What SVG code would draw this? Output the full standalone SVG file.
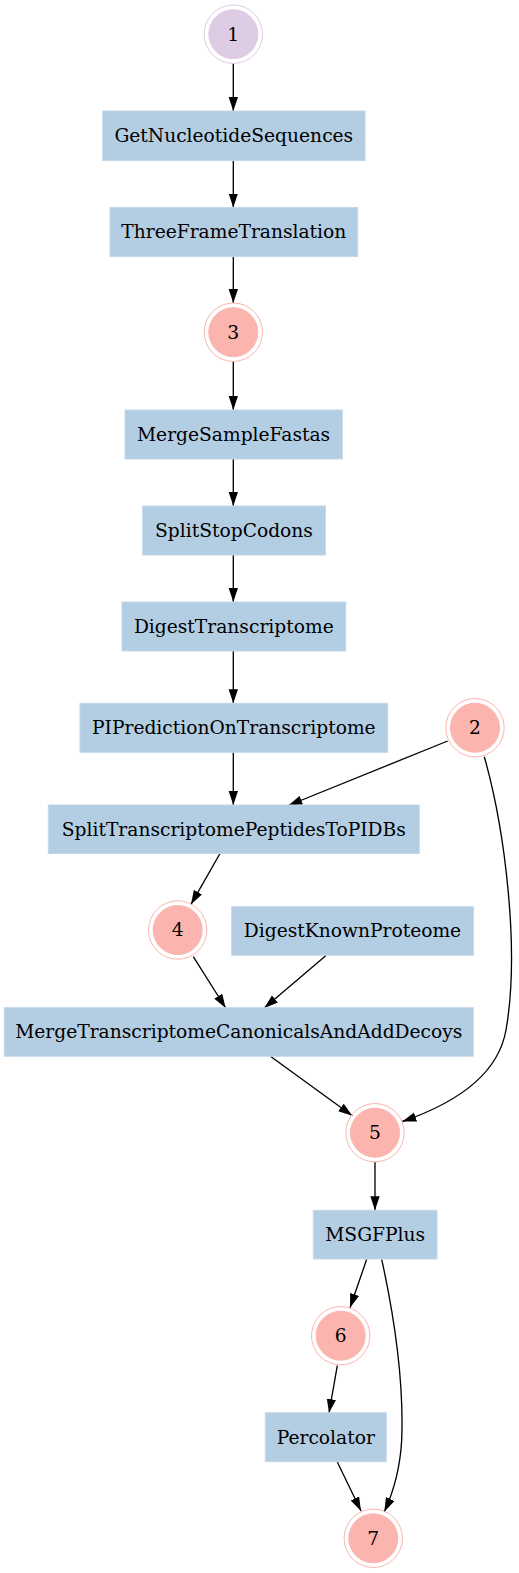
<svg xmlns="http://www.w3.org/2000/svg" width="519" height="1573" viewBox="0 0 519 1573">
<style>
.box{fill:#b3cde3;stroke:#c2d7ea;stroke-width:1}
.ring-r{fill:none;stroke:#fbb4ae;stroke-width:1}
.core-r{fill:#fbb4ae;stroke:#fbb4ae;stroke-width:1}
.ring-p{fill:none;stroke:#decbe4;stroke-width:1}
.core-p{fill:#decbe4;stroke:#decbe4;stroke-width:1}
text{font-family:"DejaVu Serif",serif;font-size:18.67px;fill:#000;text-anchor:middle}
.e{fill:none;stroke:#000;stroke-width:1.33;marker-end:url(#ah)}
</style>
<defs>
<marker id="ah" markerUnits="userSpaceOnUse" markerWidth="14" markerHeight="10" refX="14" refY="4.67" orient="auto">
<path d="M0,0 L14,4.67 L0,9.33 z" fill="#000"/>
</marker>
</defs>
<rect width="519" height="1573" fill="#fff"/>
<g id="edges">
<path class="e" d="M233.3,63.4 L233.3,111"/>
<path class="e" d="M233.3,160.5 L233.3,207.5"/>
<path class="e" d="M233.3,256.5 L233.3,303"/>
<path class="e" d="M233.3,361.3 L233.3,410"/>
<path class="e" d="M233.3,459 L233.3,506"/>
<path class="e" d="M233.3,555 L233.3,602"/>
<path class="e" d="M233.3,651 L233.3,703.3"/>
<path class="e" d="M233.3,752.3 L233.3,805"/>
<path class="e" d="M447.7,741 L288.3,805.5"/>
<path class="e" d="M484.3,756.7 C505,830 520,950 506,1030 C499,1070 465,1100 402.3,1121.5"/>
<path class="e" d="M220,853.5 L191,904.3"/>
<path class="e" d="M193.3,956.7 L225.7,1008"/>
<path class="e" d="M326,955.5 L264.3,1008"/>
<path class="e" d="M270.7,1056.5 L352.3,1115.7"/>
<path class="e" d="M375,1162 L375,1210.3"/>
<path class="e" d="M366.7,1259.3 L350,1307.7"/>
<path class="e" d="M381.7,1259.3 C395,1320 404,1380 401.7,1440 C400,1470 393,1493 384.3,1511.7"/>
<path class="e" d="M337.3,1365.7 L329,1413"/>
<path class="e" d="M337.3,1462 L361,1511"/>
</g>
<g id="n1"><circle class="ring-p" cx="233.3" cy="34.2" r="29.2"/><circle class="core-p" cx="233.3" cy="34.2" r="24.5"/><text x="233.3" y="40.5">1</text></g>
<g id="GetNucleotideSequences"><rect class="box" x="102.7" y="111" width="262.3" height="49.5"/><text x="233.8" y="142">GetNucleotideSequences</text></g>
<g id="ThreeFrameTranslation"><rect class="box" x="110" y="207.5" width="247.7" height="49"/><text x="233.8" y="238.3">ThreeFrameTranslation</text></g>
<g id="n3"><circle class="ring-r" cx="233.3" cy="332.2" r="29.2"/><circle class="core-r" cx="233.3" cy="332.2" r="24.5"/><text x="233.3" y="338.5">3</text></g>
<g id="MergeSampleFastas"><rect class="box" x="125" y="410" width="217.3" height="49"/><text x="233.6" y="440.8">MergeSampleFastas</text></g>
<g id="SplitStopCodons"><rect class="box" x="142.7" y="506" width="182.7" height="49"/><text x="234" y="536.8">SplitStopCodons</text></g>
<g id="DigestTranscriptome"><rect class="box" x="122" y="602" width="223.7" height="49"/><text x="233.8" y="632.8">DigestTranscriptome</text></g>
<g id="PIPredictionOnTranscriptome"><rect class="box" x="80" y="703.3" width="307.7" height="49"/><text x="233.8" y="734">PIPredictionOnTranscriptome</text></g>
<g id="n2"><circle class="ring-r" cx="475" cy="727.7" r="29.2"/><circle class="core-r" cx="475" cy="727.7" r="24.5"/><text x="475" y="734">2</text></g>
<g id="SplitTranscriptomePeptidesToPIDBs"><rect class="box" x="48.3" y="805" width="371" height="48.5"/><text x="233.8" y="835.5">SplitTranscriptomePeptidesToPIDBs</text></g>
<g id="n4"><circle class="ring-r" cx="177.7" cy="930" r="29.2"/><circle class="core-r" cx="177.7" cy="930" r="24.5"/><text x="177.7" y="936.3">4</text></g>
<g id="DigestKnownProteome"><rect class="box" x="231.7" y="906.7" width="241.7" height="48.5"/><text x="352.5" y="937.3">DigestKnownProteome</text></g>
<g id="MergeTranscriptomeCanonicalsAndAddDecoys"><rect class="box" x="4.3" y="1007.7" width="469" height="48.5"/><text x="238.8" y="1038.3">MergeTranscriptomeCanonicalsAndAddDecoys</text></g>
<g id="n5"><circle class="ring-r" cx="375" cy="1132.7" r="29.2"/><circle class="core-r" cx="375" cy="1132.7" r="24.5"/><text x="375" y="1139">5</text></g>
<g id="MSGFPlus"><rect class="box" x="313.3" y="1210.3" width="123.7" height="48.7"/><text x="375.2" y="1241">MSGFPlus</text></g>
<g id="n6"><circle class="ring-r" cx="340.7" cy="1335.7" r="29.2"/><circle class="core-r" cx="340.7" cy="1335.7" r="24.5"/><text x="340.7" y="1342">6</text></g>
<g id="Percolator"><rect class="box" x="265.3" y="1412.7" width="121" height="49"/><text x="325.8" y="1443.5">Percolator</text></g>
<g id="n7"><circle class="ring-r" cx="373.3" cy="1538.3" r="29.2"/><circle class="core-r" cx="373.3" cy="1538.3" r="24.5"/><text x="373.3" y="1544.6">7</text></g>
</svg>
